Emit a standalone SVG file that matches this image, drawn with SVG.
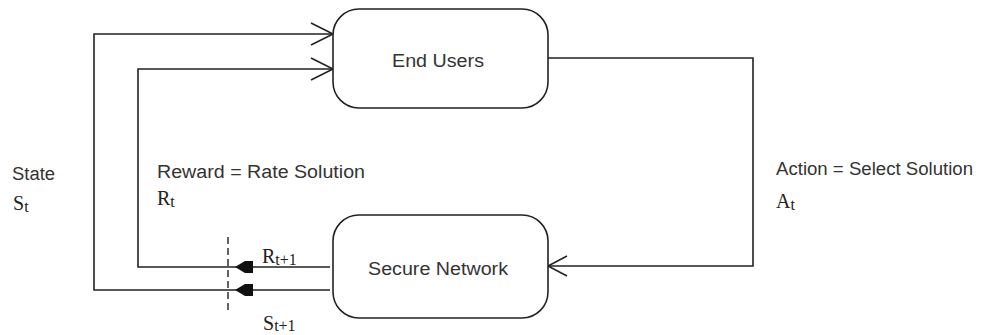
<svg xmlns="http://www.w3.org/2000/svg" width="989" height="335" viewBox="0 0 989 335">
  <style>
    .box { fill: #ffffff; stroke: #222; stroke-width: 1.6; }
    .wire { fill: none; stroke: #222; stroke-width: 1.6; }
    .open { fill: none; stroke: #222; stroke-width: 1.6; }
    .solid { fill: #111; stroke: none; }
    .dash { stroke: #222; stroke-width: 1.4; stroke-dasharray: 7 4; }
    .lbl { font-family: "Liberation Sans", Arial, sans-serif; font-size: 18px; fill: #333; }
    .sym { font-family: "Liberation Serif", "Times New Roman", serif; font-size: 20px; fill: #222; }
    .sub { font-size: 16px; }
  </style>

  <!-- connectors -->
  <g id="connectors">
    <!-- state loop (outer) -->
    <polyline class="wire" points="330,290 94,290 94,34 333,34"/>
    <!-- reward loop (inner) -->
    <polyline class="wire" points="330,267 138,267 138,69 333,69"/>
    <!-- action loop -->
    <polyline class="wire" points="548,58 753,58 753,266 548,266"/>
    <!-- open arrowheads -->
    <polyline class="open" points="311,23 333,34 311,45"/>
    <polyline class="open" points="311,58 333,69 311,80"/>
    <polyline class="open" points="567,256 548,266 567,276"/>
    <!-- filled arrowheads at the time-step boundary -->
    <polygon class="solid" points="235,267 245,261 253,261 253,273 245,273"/>
    <polygon class="solid" points="235,290 245,284 253,284 253,296 245,296"/>
    <!-- time-step boundary -->
    <line class="dash" x1="228" y1="237" x2="228" y2="312"/>
  </g>

  <g id="end-users">
    <rect class="box" x="333" y="9" width="215" height="99" rx="26" ry="26"/>
    <text class="lbl" x="392" y="67" textLength="92" lengthAdjust="spacingAndGlyphs">End Users</text>
  </g>

  <g id="secure-network">
    <rect class="box" x="333" y="215" width="215" height="103" rx="26" ry="26"/>
    <text class="lbl" x="368" y="275" textLength="140" lengthAdjust="spacingAndGlyphs">Secure Network</text>
  </g>

  <!-- labels -->
  <g id="labels">
    <text class="lbl" x="12" y="180" textLength="43" lengthAdjust="spacingAndGlyphs">State</text>
    <text class="sym" x="13" y="210">S<tspan class="sub" dy="2">t</tspan></text>

    <text class="lbl" x="157" y="178" textLength="208" lengthAdjust="spacingAndGlyphs">Reward = Rate Solution</text>
    <text class="sym" x="157" y="205">R<tspan class="sub" dy="2">t</tspan></text>

    <text class="lbl" x="776" y="175" textLength="197" lengthAdjust="spacingAndGlyphs">Action = Select Solution</text>
    <text class="sym" x="776" y="208">A<tspan class="sub" dy="2">t</tspan></text>

    <text class="sym" x="262" y="263">R<tspan class="sub" dy="2">t+1</tspan></text>
    <text class="sym" x="263" y="330">S<tspan class="sub" dy="1">t+1</tspan></text>
  </g>
</svg>
